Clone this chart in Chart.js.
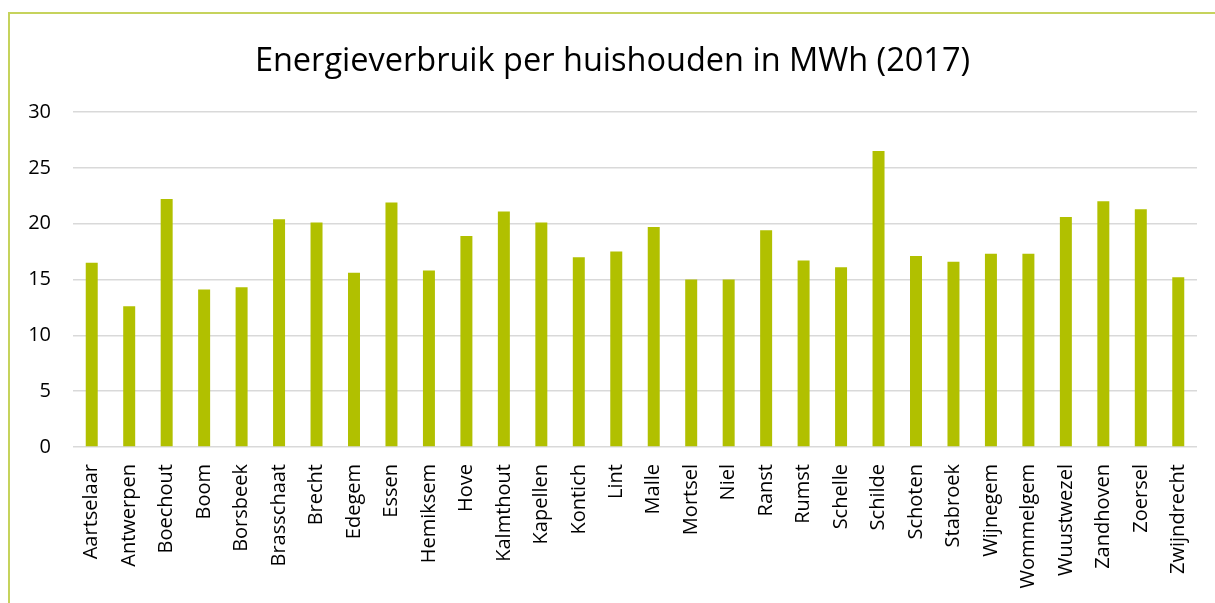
<!DOCTYPE html>
<html>
<head>
<meta charset="utf-8">
<script src="https://cdn.jsdelivr.net/npm/chart.js@4/dist/chart.umd.min.js"></script>
<style>
  html, body { margin: 0; padding: 0; background: #fff; }
  #frame {
    position: absolute; left: 8px; top: 12px; width: 1207px; height: 591px;
    border-left: 2px solid #c6d35c; border-top: 2px solid #c6d35c;
  }
  #wrap { position: absolute; left: 10px; top: 14px; width: 1205px; height: 589px; }
</style>
</head>
<body>
<div id="frame"></div>
<div id="wrap"><canvas id="energie-chart"></canvas></div>
<script>
var gemeenten = ['Aartselaar', 'Antwerpen', 'Boechout', 'Boom', 'Borsbeek', 'Brasschaat', 'Brecht', 'Edegem',
    'Essen', 'Hemiksem', 'Hove', 'Kalmthout', 'Kapellen', 'Kontich', 'Lint', 'Malle', 'Mortsel', 'Niel',
    'Ranst', 'Rumst', 'Schelle', 'Schilde', 'Schoten', 'Stabroek', 'Wijnegem', 'Wommelgem', 'Wuustwezel',
    'Zandhoven', 'Zoersel', 'Zwijndrecht'];
var verbruik = [16.5, 12.6, 22.2, 14.1, 14.3, 20.4, 20.1, 15.6,
    21.9, 15.8, 18.9, 21.1, 20.1, 17.0, 17.5, 19.7, 15.0, 15.0,
    19.4, 16.7, 16.1, 26.5, 17.1, 16.6, 17.3, 17.3, 20.6,
    22.0, 21.3, 15.2];
var yTicks = [0, 5, 10, 15, 20, 25, 30];

function energieChart() {
    var ctx = document.getElementById('energie-chart').getContext('2d');
    new Chart(ctx, {
        type: 'bar',
        data: {
            labels: gemeenten,
            datasets: [{
                label: 'MWh',
                data: verbruik,
                backgroundColor: '#b1c000',
                barPercentage: 0.32,
                categoryPercentage: 1
            }]
        },
        options: {
            responsive: true,
            maintainAspectRatio: false,
            animation: false,
            layout: { padding: 0 },
            plugins: {
                legend: { display: false },
                tooltip: { enabled: false },
                title: {
                    display: true,
                    text: 'Energieverbruik per huishouden in MWh (2017)',
                    color: '#000',
                    font: { family: 'Open Sans', size: 32.5, weight: 'normal' },
                    padding: { top: 28, bottom: 31 }
                }
            },
            scales: {
                x: {
                    grid: { display: false },
                    border: { display: false },
                    ticks: {
                        color: '#000',
                        font: { family: 'Open Sans', size: 20 },
                        minRotation: 90,
                        maxRotation: 90,
                        autoSkip: false,
                        padding: 9
                    },
                    afterFit: function (scale) { scale.height = 156; }
                },
                y: {
                    min: 0,
                    max: 30,
                    afterBuildTicks: function (scale) {
                        scale.ticks = yTicks.map(function (v) { return { value: v }; });
                    },
                    grid: { color: '#d9d9d9', lineWidth: 1.5, drawTicks: false },
                    border: { display: false },
                    ticks: {
                        color: '#000',
                        font: { family: 'Open Sans', size: 20 },
                        padding: 22
                    },
                    afterFit: function (scale) { scale.width = 63; }
                },
                // empty right margin so the title centres on the whole frame
                yRight: {
                    position: 'right',
                    min: 0,
                    max: 30,
                    grid: { display: false },
                    border: { display: false },
                    ticks: { display: false },
                    afterFit: function (scale) { scale.width = 18; }
                }
            }
        }
    });
}
energieChart();
</script>
</body>
</html>
